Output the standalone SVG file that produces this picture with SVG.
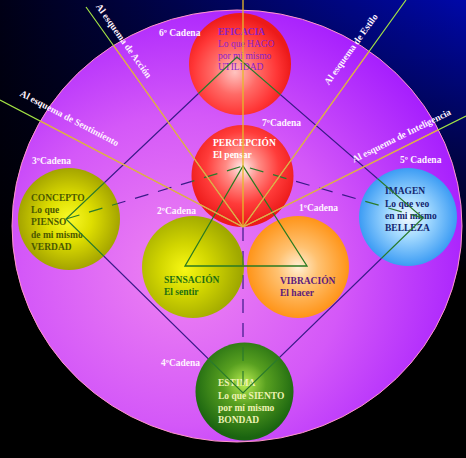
<svg xmlns="http://www.w3.org/2000/svg" width="466" height="458" viewBox="0 0 466 458">
<style>
.t{font-family:"Liberation Serif","Times New Roman",serif;font-size:9.5px;font-weight:bold;}
.r{font-weight:normal;}
.w{fill:#ffffff;}
.lab{fill:#fff4ff;}
.dark{stroke:#3a1a88;stroke-width:1.2;fill:none;}
.grn{stroke:#2a7a2c;stroke-width:1.2;fill:none;}
</style>
<defs>
<linearGradient id="bgH" x1="0" y1="0" x2="1" y2="0">
<stop offset="0" stop-color="#000016"/>
<stop offset="1" stop-color="#0008a8"/>
</linearGradient>
<linearGradient id="bgV" x1="0" y1="0" x2="0" y2="1">
<stop offset="0" stop-color="#000" stop-opacity="0"/>
<stop offset="0.6" stop-color="#000" stop-opacity="1"/>
</linearGradient>
<radialGradient id="gPurple" cx="0.38" cy="0.6" r="0.72">
<stop offset="0" stop-color="#ef84f2"/>
<stop offset="0.5" stop-color="#d458f8"/>
<stop offset="1" stop-color="#9c12ff"/>
</radialGradient>
<radialGradient id="gRed1" cx="0.45" cy="0.58" r="0.55">
<stop offset="0" stop-color="#ffc4c0"/>
<stop offset="0.4" stop-color="#ff6a66"/>
<stop offset="0.75" stop-color="#ff3636"/>
<stop offset="1" stop-color="#ec1a1a"/>
</radialGradient>
<radialGradient id="gRed2" cx="0.5" cy="0.42" r="0.55">
<stop offset="0" stop-color="#fff0ee"/>
<stop offset="0.3" stop-color="#ff8a84"/>
<stop offset="0.65" stop-color="#ff3c3a"/>
<stop offset="1" stop-color="#ec1a1a"/>
</radialGradient>
<radialGradient id="gOlive" cx="0.5" cy="0.5" r="0.5">
<stop offset="0" stop-color="#fafa28"/>
<stop offset="0.45" stop-color="#dede00"/>
<stop offset="1" stop-color="#a4a400"/>
</radialGradient>
<radialGradient id="gOlive2" cx="0.42" cy="0.52" r="0.55">
<stop offset="0" stop-color="#f8f814"/>
<stop offset="0.45" stop-color="#d2d600"/>
<stop offset="1" stop-color="#a0a800"/>
</radialGradient>
<radialGradient id="gOrange" cx="0.5" cy="0.5" r="0.5">
<stop offset="0" stop-color="#fff0d4"/>
<stop offset="0.4" stop-color="#ffc272"/>
<stop offset="1" stop-color="#ff9418"/>
</radialGradient>
<radialGradient id="gBlue" cx="0.5" cy="0.5" r="0.5">
<stop offset="0" stop-color="#f4fbff"/>
<stop offset="0.4" stop-color="#a6dbff"/>
<stop offset="1" stop-color="#3c9cf4"/>
</radialGradient>
<radialGradient id="gGreen" cx="0.5" cy="0.42" r="0.55">
<stop offset="0" stop-color="#b8ec50"/>
<stop offset="0.4" stop-color="#58a020"/>
<stop offset="1" stop-color="#1a6410"/>
</radialGradient>
<clipPath id="inEllipse"><ellipse cx="237" cy="226" rx="225" ry="216"/></clipPath>
<clipPath id="inSpheres">
<circle cx="240" cy="64" r="51"/>
<circle cx="242.5" cy="176" r="51"/>
<circle cx="193" cy="267" r="51"/>
<circle cx="298" cy="267" r="51"/>
<circle cx="69" cy="219" r="51"/>
<circle cx="408" cy="217" r="49"/>
<circle cx="244.5" cy="391.5" r="49"/>
</clipPath>
<mask id="outSpheres" maskUnits="userSpaceOnUse" x="0" y="0" width="466" height="458">
<rect width="466" height="458" fill="#fff"/>
<circle cx="240" cy="64" r="51" fill="#000"/>
<circle cx="242.5" cy="176" r="51" fill="#000"/>
<circle cx="193" cy="267" r="51" fill="#000"/>
<circle cx="298" cy="267" r="51" fill="#000"/>
<circle cx="69" cy="219" r="51" fill="#000"/>
<circle cx="408" cy="217" r="49" fill="#000"/>
<circle cx="244.5" cy="391.5" r="49" fill="#000"/>
</mask>
<g id="net">
<polygon points="237,57 66,219 243,393 423,218"/>
<path d="M66,219 L243,166 L423,218 M243,227 L243,393" stroke-dasharray="14 10"/>
</g>
<path id="fan" d="M243,227 L86,7 M243,227 L0,100 M243,227 L406,0 M243,227 L466,116"/>
</defs>

<rect width="466" height="458" fill="url(#bgH)"/>
<rect width="466" height="458" fill="url(#bgV)"/>
<ellipse id="ring" cx="237" cy="226" rx="225" ry="216" fill="url(#gPurple)" stroke="#ff96c8" stroke-width="1"/>

<g id="n-eficacia">
<circle cx="240" cy="64" r="51" fill="url(#gRed1)"/>
<text class="t" fill="#8a22cc"><tspan x="218" y="35">EFICACIA</tspan><tspan class="r" x="218" y="47">Lo que HAGO</tspan><tspan class="r" x="218" y="58.5">por mí mismo</tspan><tspan class="r" x="218" y="70">UTILIDAD</tspan></text>
</g>
<g id="n-percepcion">
<circle cx="242.5" cy="176" r="51" fill="url(#gRed2)"/>
<text class="t w"><tspan x="213" y="146">PERCEPCIÓN</tspan><tspan x="213" y="158">El pensar</tspan></text>
</g>
<g id="n-sensacion">
<circle cx="193" cy="267" r="51" fill="url(#gOlive2)"/>
<text class="t" fill="#1e6e12"><tspan x="164" y="283">SENSACIÓN</tspan><tspan x="164" y="295">El sentir</tspan></text>
</g>
<g id="n-vibracion">
<circle cx="298" cy="267" r="51" fill="url(#gOrange)"/>
<text class="t" fill="#5c1a7c"><tspan x="280" y="284">VIBRACIÓN</tspan><tspan x="280" y="296">El hacer</tspan></text>
</g>
<g id="n-concepto">
<circle cx="69" cy="219" r="51" fill="url(#gOlive)"/>
<text class="t" fill="#4a5800"><tspan x="31" y="201">CONCEPTO</tspan><tspan x="31" y="213">Lo que</tspan><tspan x="31" y="225">PIENSO</tspan><tspan x="31" y="237.5">de mi mismo</tspan><tspan x="31" y="250">VERDAD</tspan></text>
</g>
<g id="n-imagen">
<circle cx="408" cy="217" r="49" fill="url(#gBlue)"/>
<text class="t" fill="#13266e"><tspan x="385" y="194">IMAGEN</tspan><tspan x="385" y="207">Lo que veo</tspan><tspan x="385" y="219">en mi mismo</tspan><tspan x="385" y="231">BELLEZA</tspan></text>
</g>
<g id="n-estima">
<circle cx="244.5" cy="391.5" r="49" fill="url(#gGreen)"/>
<text class="t" fill="#eef2b4"><tspan x="218" y="386">ESTIMA</tspan><tspan x="218" y="399">Lo que SIENTO</tspan><tspan x="218" y="411">por mí mismo</tspan><tspan x="218" y="423">BONDAD</tspan></text>
</g>

<g id="connectors">
<use href="#net" class="dark" mask="url(#outSpheres)"/>
<use href="#net" class="grn" clip-path="url(#inSpheres)"/>
<polygon points="243,166 185,266 307,266" fill="none" stroke="#2a7a20" stroke-width="1.3"/>
<use href="#fan" fill="none" stroke="#a2e244" stroke-width="1.2"/>
<use href="#fan" fill="none" stroke="#eaa24c" stroke-width="1.2" clip-path="url(#inEllipse)"/>
<line x1="243" y1="0" x2="243" y2="227" stroke="#e6b828" stroke-width="1.3"/>
</g>

<g id="labels" class="t lab">
<text x="159" y="36">6º Cadena</text>
<text x="262" y="126">7ºCadena</text>
<text x="32" y="164">3ºCadena</text>
<text x="400" y="163">5º Cadena</text>
<text x="157" y="214">2ºCadena</text>
<text x="299" y="211">1ºCadena</text>
<text x="161" y="366">4ºCadena</text>
<text transform="translate(86,7) rotate(54.5)" x="5" y="-8">Al esquema de Acción</text>
<text transform="translate(0,100) rotate(27.6)" x="15" y="-13">Al esquema de Sentimiento</text>
<text transform="translate(243,227) rotate(-54.3)" x="165" y="-13">Al esquema de Estilo</text>
<text transform="translate(243,227) rotate(-26.5)" x="128" y="-8">Al esquema de Inteligencia</text>
</g>
</svg>
